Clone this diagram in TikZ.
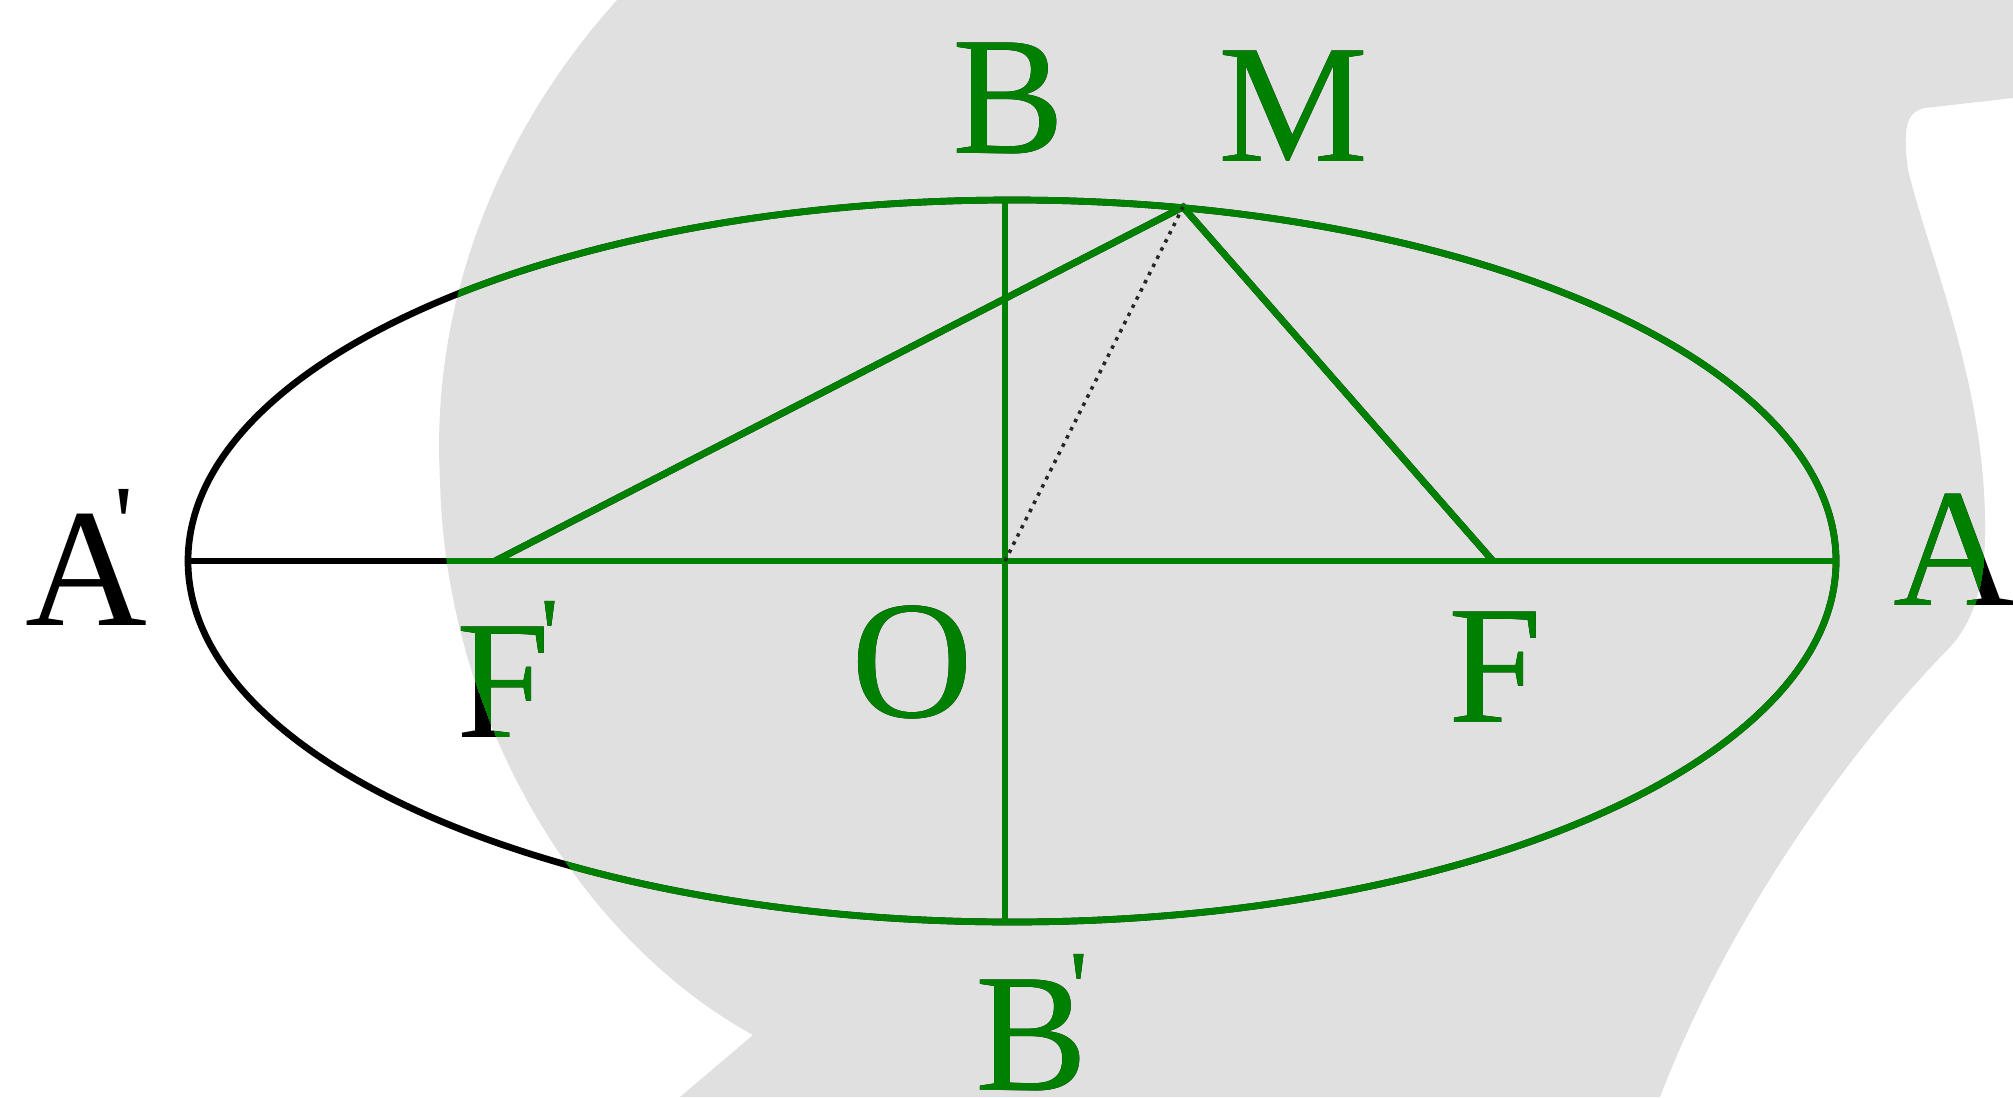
\documentclass[tikz,border=0pt]{standalone}
\usepackage{fontspec}
\setmainfont{Liberation Serif}
\definecolor{figgreen}{RGB}{0,128,0}
\definecolor{blobgrey}{RGB}{224,224,224}
\newcommand\primemark[1]{\kern#1\raisebox{19pt}{\fontsize{30}{30}\selectfont\textquotesingle}}
\tikzset{
  lbl/.style={inner sep=0pt, anchor=base west, font=\fontsize{48}{50}\selectfont},
  figline/.style={line width=1.9pt},
  dotline/.style={line width=1pt, dash pattern=on 1pt off 1.6pt}
}
\newcommand\figlayer[1]{%
  \draw[figline,#1] (E) ellipse [x radius=824, y radius=361];
  \draw[figline,#1] (Ap) -- (A);
  \draw[figline,#1] (B) -- (Bp);
  \draw[figline,#1] (Fp) -- (M) -- (F);
  \node[lbl,text=#1] (lAp) at (25,625) {A\primemark{-9.5pt}};
  \node[lbl,text=#1] (lA) at (1893,605) {A};
  \node[lbl,text=#1] (lB) at (952,153) {B};
  \node[lbl,text=#1] (lM) at (1218,162) {M};
  \node[lbl,text=#1] (lO) at (851,717) {O};
  \node[lbl,text=#1] (lFp) at (456,737) {F\primemark{-2.8pt}};
  \node[lbl,text=#1] (lF) at (1448,722) {F};
  \node[lbl,text=#1] (lBp) at (975,1090) {B\primemark{-5.4pt}};
}
\begin{document}
\begin{tikzpicture}[x=0.01cm,y=-0.01cm]
\useasboundingbox (0,0) rectangle (2013,1097);
% grey background blob
\fill[blobgrey] (617,0) .. controls (500,130) and (430,300) .. (440,480)
  .. controls (445,720) and (580,940) .. (753,1035)
  -- (680,1097) -- (1660,1097)
  .. controls (1720,940) and (1830,770) .. (1950,647)
  .. controls (1975,620) and (1986,580) .. (1985,523)
  .. controls (1984,380) and (1930,260) .. (1908,170)
  .. controls (1903,130) and (1905,112) .. (1925,108)
  -- (2013,98) -- (2013,0) -- cycle;
% points
\coordinate (E) at (1012,561);
\coordinate (O) at (1005,561);
\coordinate (Ap) at (188,561);
\coordinate (A) at (1836,561);
\coordinate (B) at (1005,200);
\coordinate (Bp) at (1005,922);
\coordinate (Fp) at (495,561);
\coordinate (F) at (1493,561);
\coordinate (M) at (1183,207);
% black layer
\figlayer{black}
% green layer over the grey blob
\begin{scope}
\clip (617,0) .. controls (500,130) and (430,300) .. (440,480)
  .. controls (445,720) and (580,940) .. (753,1035)
  -- (680,1097) -- (1660,1097)
  .. controls (1720,940) and (1830,770) .. (1950,647)
  .. controls (1975,620) and (1986,580) .. (1985,523)
  .. controls (1984,380) and (1930,260) .. (1908,170)
  .. controls (1903,130) and (1905,112) .. (1925,108)
  -- (2013,98) -- (2013,0) -- cycle;
\figlayer{figgreen}
\end{scope}
% dotted segment OM, dark throughout
\draw[dotline,black!85] (O) -- (M);
\end{tikzpicture}
\end{document}
